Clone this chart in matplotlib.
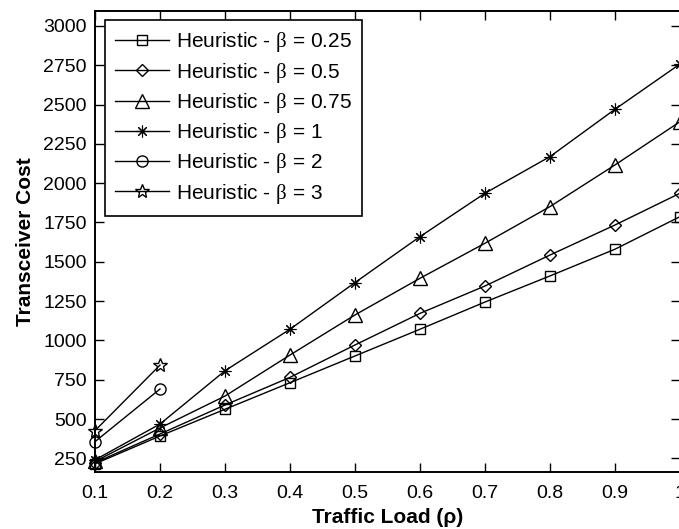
import matplotlib
matplotlib.use('Agg')
import matplotlib.pyplot as plt
import numpy as np

plt.rcParams['font.family'] = ['Liberation Sans', 'DejaVu Sans']
plt.rcParams['mathtext.fontset'] = 'custom'
plt.rcParams['mathtext.rm'] = 'Liberation Serif'

# Data
load = [0.1, 0.2, 0.3, 0.4, 0.5, 0.6, 0.7, 0.8, 0.9, 1.0]
beta_025 = [215, 392, 562, 731, 901, 1071, 1244, 1410, 1580, 1787]
beta_05 = [222, 405, 589, 765, 971, 1172, 1346, 1543, 1734, 1936]
beta_075 = [230, 443, 646, 907, 1162, 1395, 1618, 1851, 2116, 2391]
beta_1 = [240, 468, 807, 1071, 1368, 1660, 1936, 2169, 2470, 2758]
beta_2 = [356, 691]
beta_3 = [426, 843]

series = [
    (beta_025, '0.25', 's', 7.8, 1.0),
    (beta_05, '0.5', 'D', 6.0, 1.0),
    (beta_075, '0.75', '^', 9.5, 1.0),
    (beta_1, '1', (8, 2, 0), 8.5, 0.8),
    (beta_2, '2', 'o', 8.0, 1.0),
    (beta_3, '3', '*', 10.0, 1.0),
]

fig = plt.figure(figsize=(6.79, 5.29), dpi=100)
ax = fig.add_axes([95 / 679, 57 / 529, 585 / 679, 461 / 529])

for vals, beta, mk, ms, mew in series:
    ax.plot(load[:len(vals)], vals, color='black', lw=1.0, marker=mk,
            markersize=ms, fillstyle='none', markeredgewidth=mew,
            markeredgecolor='black', clip_on=False,
            label=r'Heuristic - $\mathrm{\beta}$ = ' + beta)

ax.set_xlim(0.1, 1.0)
ax.set_ylim(163, 3095)
ax.set_xticks(load)
ax.set_xticklabels(['0.1', '0.2', '0.3', '0.4', '0.5', '0.6', '0.7', '0.8', '0.9', '1'])
ax.set_yticks(np.arange(250, 3001, 250))
ax.tick_params(direction='in', top=True, right=True, length=6.5, width=1.0,
               labelsize=14, colors='black')
ax.tick_params(axis='x', pad=9)
ax.tick_params(axis='y', pad=6)
for sp in ax.spines.values():
    sp.set_linewidth(1.4)

ax.set_xlabel('Traffic Load (ρ)', fontsize=15, fontweight='bold', labelpad=5)
ax.set_ylabel('Transceiver Cost', fontsize=15, fontweight='bold', labelpad=6)

leg = ax.legend(loc='upper left', bbox_to_anchor=(0.0166, 0.9805), borderaxespad=0,
                fontsize=15, handlelength=2.6, handletextpad=0.3, labelspacing=0.3,
                borderpad=0.5, fancybox=False, framealpha=1, edgecolor='black')
leg.get_frame().set_linewidth(1.2)

fig.savefig('out.png', dpi=100)
